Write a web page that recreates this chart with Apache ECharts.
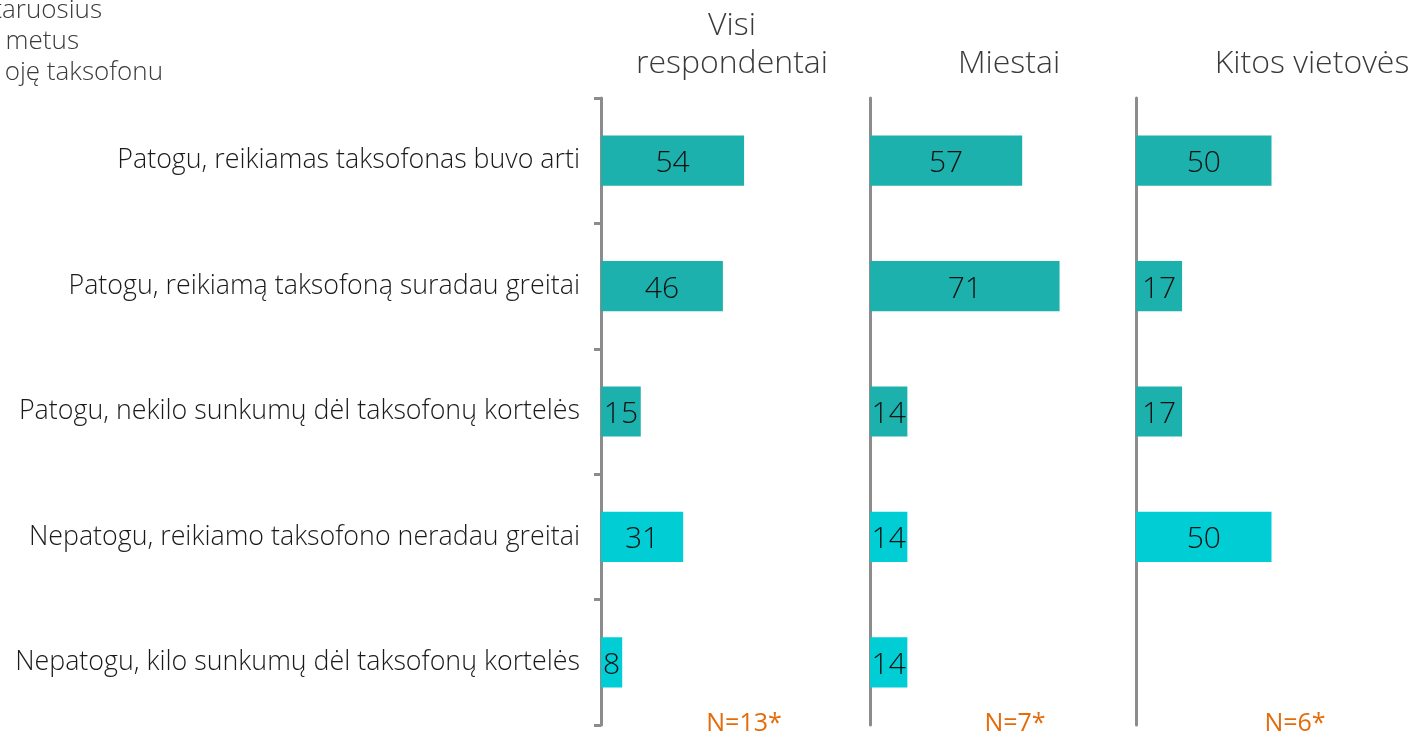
<!DOCTYPE html>
<html>
<head>
<meta charset="utf-8">
<script src="https://cdn.jsdelivr.net/npm/echarts@6/dist/echarts.min.js"></script>
<style>
  html, body { margin: 0; padding: 0; background: #fff; }
  #chart { width: 1417px; height: 736px; }
</style>
</head>
<body>
<div id="chart"></div>
<script>
// Answer categories (top to bottom)
const categories = [
  'Patogu, reikiamas taksofonas buvo arti',
  'Patogu, reikiamą taksofoną suradau greitai',
  'Patogu, nekilo sunkumų dėl taksofonų kortelės',
  'Nepatogu, reikiamo taksofono neradau greitai',
  'Nepatogu, kilo sunkumų dėl taksofonų kortelės'
];
// Percent values per respondent group (null = no bar)
const visiRespondentai = [54, 46, 15, 31, 8];
const miestai = [57, 71, 14, 14, 14];
const kitosVietoves = [50, 17, 17, 50, null];

const panelTitles = ['Visi\nrespondentai', 'Miestai', 'Kitos vietovės'];
const sampleSizes = ['N=13*', 'N=7*', 'N=6*'];
const cornerLines = ['taruosius', 'metus', 'oję taksofonu'];

const TEAL = '#1DB1AD';
const CYAN = '#00CED4';
const FONT = "'Open Sans', sans-serif";

const panels = [visiRespondentai, miestai, kitosVietoves];
const gridLefts = [601, 870, 1136];
const gridWidths = [265, 267, 271];

const chart = echarts.init(document.getElementById('chart'));

const grids = gridLefts.map((l, i) => ({ left: l, width: gridWidths[i], top: 98, height: 627 }));

const xAxes = panels.map((_, i) => ({
  type: 'value', gridIndex: i, min: 0, max: 100,
  show: false
}));

const yAxes = panels.map((_, i) => ({
  type: 'category', gridIndex: i, data: categories, inverse: true,
  axisLine: { show: true, lineStyle: { color: '#8c8c8c', width: 3 } },
  axisTick: { show: i === 0, length: 7, lineStyle: { color: '#8c8c8c', width: 3 } },
  axisLabel: {
    show: i === 0, margin: 21, color: '#1a1a1a',
    fontFamily: FONT, fontWeight: 300, fontSize: 26.8
  },
  splitLine: { show: false }
}));

const series = panels.map((vals, i) => ({
  type: 'bar', xAxisIndex: i, yAxisIndex: i,
  barWidth: '40%',
  data: vals.map((v, k) => ({
    value: v,
    itemStyle: { color: k < 3 ? TEAL : CYAN }
  })),
  label: {
    show: true, position: 'inside', offset: [0, 3], color: '#111',
    fontFamily: FONT, fontWeight: 300, fontSize: 30,
    formatter: p => (p.value == null ? '' : p.value)
  },
  silent: true
}));

const titleCenters = [727, 1004, 1307];
const titleTops = [2, 40, 40];
const nCenters = [739, 1010, 1290];

const titles = [];
panelTitles.forEach((t, i) => {
  titles.push({
    text: t, left: titleCenters[i], top: titleTops[i], textAlign: 'center',
    textStyle: { fontFamily: FONT, fontWeight: 300, fontSize: 32, color: '#3a3a3a', lineHeight: 38 }
  });
});
sampleSizes.forEach((t, i) => {
  titles.push({
    text: t, left: nCenters[i], top: 706, textAlign: 'center',
    textStyle: { fontFamily: FONT, fontWeight: 400, fontSize: 25, color: '#E46C0A' }
  });
});

const cornerRight = [102, 79, 163];
const graphics = cornerLines.map((t, i) => ({
  type: 'text', x: cornerRight[i], y: -2 + i * 31,
  style: {
    text: t, align: 'right', verticalAlign: 'top',
    font: `300 26px ${FONT}`, fill: '#3a3a3a'
  }
}));

chart.setOption({
  animation: false,
  backgroundColor: '#fff',
  title: titles,
  grid: grids,
  xAxis: xAxes,
  yAxis: yAxes,
  series: series,
  graphic: graphics
});
</script>
</body>
</html>
